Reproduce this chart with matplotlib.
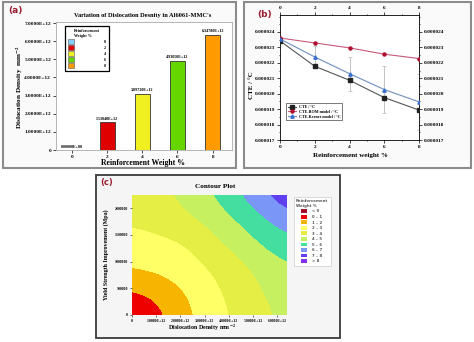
import matplotlib
matplotlib.use("Agg")
import matplotlib.pyplot as plt
import matplotlib.ticker as ticker
from matplotlib.patches import Patch, Rectangle
from matplotlib.colors import ListedColormap, BoundaryNorm
import numpy as np

# (a) dislocation density vs reinforcement weight
weights = [0, 2, 4, 6, 8]
density = [0.0, 1.5304e12, 3.0972e12, 4.9305e12, 6.3478e12]
density_labels = ["0.00000E+00", "1.53040E+12", "3.09720E+12", "4.93050E+12", "6.34780E+12"]
bar_colors = ["#87cefa", "#e00000", "#f0f020", "#66d600", "#ff9a00"]
density_ticks = [0, 1e12, 2e12, 3e12, 4e12, 5e12, 6e12, 7e12]
density_ticklabels = ["0", "1.0000E+12", "2.0000E+12", "3.0000E+12", "4.0000E+12",
                      "5.0000E+12", "6.0000E+12", "7.0000E+12"]

# (b) CTE vs reinforcement weight
cte = [23.42e-6, 21.78e-6, 20.87e-6, 19.75e-6, 18.94e-6]
cte_rom = [23.61e-6, 23.29e-6, 22.97e-6, 22.56e-6, 22.28e-6]
cte_kerner = [23.55e-6, 22.38e-6, 21.30e-6, 20.27e-6, 19.47e-6]
kerner_err = [0.0, 0.7e-6, 1.1e-6, 1.5e-6, 1.8e-6]
cte_ticks = [17e-6, 18e-6, 19e-6, 20e-6, 21e-6, 22e-6, 23e-6, 24e-6]

# (c) contour: reinforcement weight over dislocation density / yield strength
grid_density = [0, 1.28e12, 2.56e12, 3.84e12, 5.12e12, 6.4e12]
grid_strength = [0, 450000, 900000, 1350000, 1800000, 2250000]
grid_weight = [
    [0.10, 0.85, 2.05, 2.90, 3.60, 4.30],
    [0.90, 1.35, 2.30, 3.10, 3.80, 4.60],
    [2.10, 2.35, 2.80, 3.30, 4.20, 4.90],
    [2.65, 2.80, 3.05, 4.10, 4.90, 5.70],
    [3.15, 3.40, 3.95, 4.70, 5.60, 6.70],
    [3.50, 3.80, 4.50, 5.40, 6.70, 7.75],
]
contour_levels = [-1, 0, 1, 2, 3, 4, 5, 6, 7, 8, 9]
contour_colors = ["#a0102a", "#ee0000", "#f7b400", "#ffff66", "#e4ee44",
                  "#c6f060", "#44dfa0", "#7a96f6", "#6040ee", "#8030e8"]
contour_labels = ["< 0", "0 – 1", "1 – 2", "2 – 3", "3 – 4", "4 – 5",
                  "5 – 6", "6 – 7", "7 – 8", "> 8"]
strength_ticks = [0, 500000, 1000000, 1500000, 2000000]
density_ticks_c = [0, 1e12, 2e12, 3e12, 4e12, 5e12, 6e12]
density_ticklabels_c = ["0", "1.0000E+12", "2.0000E+12", "3.0000E+12",
                        "4.0000E+12", "5.0000E+12", "6.0000E+12"]

W, H = 474, 342
SERIF = "Liberation Serif"
LABEL_RED = "#9b1b30"

plt.rcParams["font.family"] = SERIF
plt.rcParams["font.weight"] = "bold"
plt.rcParams["mathtext.fontset"] = "stix"
plt.rcParams["axes.linewidth"] = 0.6


def px_box(left, top, right, bottom):
    return [left / W, 1 - bottom / H, (right - left) / W, (bottom - top) / H]


def frame(fig, left, top, right, bottom, color, lw, face):
    x, y, w, h = px_box(left, top, right, bottom)
    fig.patches.append(Rectangle((x, y), w, h, transform=fig.transFigure,
                                 facecolor=face, edgecolor=color, linewidth=lw, zorder=-1))


def ftext(fig, x, y, s, **kw):
    fig.text(x / W, 1 - y / H, s, **kw)


fig = plt.figure(figsize=(W / 100, H / 100), dpi=100)
fig.patch.set_facecolor("white")

frame(fig, 3, 2, 236, 168, "#8c8c8c", 1.5, "#fafafa")
frame(fig, 244, 2, 471, 168, "#8c8c8c", 1.5, "#fafafa")
frame(fig, 96, 175, 340, 338, "#3a3a3a", 1.3, "#f5f5f5")

# ---- (a) bar chart ----
ax = fig.add_axes(px_box(56, 22, 232, 150))
ax.bar(weights, density, width=0.85, color=bar_colors, edgecolor="#333333", linewidth=0.6)
for w, d, lab in zip(weights, density, density_labels):
    ax.text(w, d + 0.08e12, lab, ha="center", va="bottom", fontsize=3)
ax.set_xlim(-0.9, 9.1)
ax.set_ylim(0, 7.06e12)
ax.set_xticks(weights)
ax.set_yticks(density_ticks)
ax.set_yticklabels(density_ticklabels)
ax.tick_params(labelsize=3.8, length=2, width=0.5, pad=1.5)
for sp in ax.spines.values():
    sp.set_color("#aaaaaa")
handles = [Patch(facecolor=c, edgecolor="#555555", linewidth=0.4) for c in bar_colors]
leg = ax.legend(handles, [str(w) for w in weights], title="Reinforcement\nWeight %",
                loc="upper left", bbox_to_anchor=(0.04, 0.985), fontsize=3, title_fontsize=3,
                handlelength=1.4, handleheight=1.2, handletextpad=7, labelspacing=0.35,
                borderpad=0.8, fancybox=False, framealpha=1)
leg.get_frame().set_edgecolor("black")
leg.get_frame().set_linewidth(0.9)

ftext(fig, 143, 16, "Variation of Dislocation Desnity in Al6061-MMC's", ha="center",
      va="center", fontsize=4.6)
ftext(fig, 20, 87, "Dislocation Density  mm$^{-2}$", ha="center", va="center",
      rotation=90, fontsize=5.2)
ftext(fig, 143, 163, "Reinforcement Weight %", ha="center", va="center", fontsize=5.6)
ftext(fig, 8, 11, "(a)", ha="left", va="center", fontsize=6.5, color=LABEL_RED,
      family="DejaVu Sans")

# ---- (b) CTE lines ----
ax = fig.add_axes(px_box(280, 15, 419, 140))
ax.errorbar(weights, cte_kerner, yerr=kerner_err, fmt="none", ecolor="#b8b8b8",
            elinewidth=0.6, capsize=1.5, capthick=0.5, zorder=1)
ax.plot(weights, cte, color="#555555", lw=0.8, marker="s", ms=2.2, mfc="#222222",
        mec="#222222", label="CTE / °C", zorder=3)
ax.plot(weights, cte_rom, color="#c85a78", lw=0.8, marker="o", ms=2.2, mfc="#b01030",
        mec="#b01030", label="CTE-ROM model / °C", zorder=3)
ax.plot(weights, cte_kerner, color="#6f8fbf", lw=0.8, marker="^", ms=2.4, mfc="#3a6fd0",
        mec="#3a6fd0", label="CTE-Kerner model / °C", zorder=3)
ax.set_xlim(0, 8)
ax.set_ylim(17e-6, 25.1e-6)
ax.set_xticks(weights)
ax.set_yticks(cte_ticks)
ax.yaxis.set_major_formatter(ticker.FormatStrFormatter("%.6f"))
ax.xaxis.set_minor_locator(ticker.MultipleLocator(1))
ax.yaxis.set_minor_locator(ticker.MultipleLocator(0.5e-6))
ax.tick_params(which="both", top=True, right=True, labeltop=True, labelright=True,
               direction="out", labelsize=3.8, pad=1.5, width=0.5)
ax.tick_params(which="major", length=2)
ax.tick_params(which="minor", length=1)
leg = ax.legend(loc="lower left", bbox_to_anchor=(0.03, 0.14), fontsize=3,
                handlelength=2, handletextpad=0.6, labelspacing=0.2, borderpad=0.4,
                fancybox=False, framealpha=1)
leg.get_frame().set_edgecolor("#444444")
leg.get_frame().set_linewidth(0.5)

ftext(fig, 252, 85, "CTE / °C", ha="center", va="center", rotation=90, fontsize=5)
ftext(fig, 350, 155, "Reinforcement weight %", ha="center", va="center", fontsize=5)
ftext(fig, 257, 15, "(b)", ha="left", va="center", fontsize=6.5, color=LABEL_RED,
      family="DejaVu Sans")

# ---- (c) contour ----
ax = fig.add_axes(px_box(132, 195, 287, 315))
dx = grid_density[1] - grid_density[0]
dy = grid_strength[1] - grid_strength[0]
extent = [grid_density[0] - dx / 2, grid_density[-1] + dx / 2,
          grid_strength[0] - dy / 2, grid_strength[-1] + dy / 2]
# smooth banded surface: interpolate the grid in data space, then bin into levels
ax.imshow(np.array(grid_weight), origin="lower", extent=extent, aspect="auto",
          cmap=ListedColormap(contour_colors),
          norm=BoundaryNorm(contour_levels, len(contour_colors)),
          interpolation="bicubic", interpolation_stage="data")
ax.set_xlim(0, 6.4e12)
ax.set_ylim(0, 2.25e6)
ax.set_xticks(density_ticks_c)
ax.set_xticklabels(density_ticklabels_c)
ax.set_yticks(strength_ticks)
ax.set_yticklabels([str(v) for v in strength_ticks])
ax.tick_params(labelsize=2.8, length=1.5, width=0.4, pad=1.5)
for sp in ax.spines.values():
    sp.set_visible(False)
handles = [Patch(facecolor=c, edgecolor="none") for c in contour_colors]
leg = ax.legend(handles, contour_labels, title="Reinforcement\nWeight %",
                loc="upper left", bbox_to_anchor=(1.03, 1.0),
                title_fontsize=2.8, handlelength=1.3, handleheight=1.1,
                handletextpad=1.5, labelspacing=0.35, borderpad=0.6,
                fancybox=False, framealpha=1, prop={"family": "DejaVu Sans", "size": 2.8})
leg.get_frame().set_edgecolor("#cccccc")
leg.get_frame().set_linewidth(0.5)
leg.get_title().set_family("DejaVu Sans")
leg.get_title().set_color("#555555")
for t in leg.get_texts():
    t.set_color("#555555")

ftext(fig, 215, 187, "Contour Plot", ha="center", va="center", fontsize=5.2)
ftext(fig, 106, 255, "Yield Strength Improvement (Mpa)", ha="center", va="center",
      rotation=90, fontsize=4.3)
ftext(fig, 202, 328, "Dislocation Density mm$^{-2}$", ha="center", va="center",
      fontsize=4.3)
ftext(fig, 100, 183, "(c)", ha="left", va="center", fontsize=6, color=LABEL_RED,
      family="DejaVu Sans")

fig.savefig("out.png", dpi=100)
